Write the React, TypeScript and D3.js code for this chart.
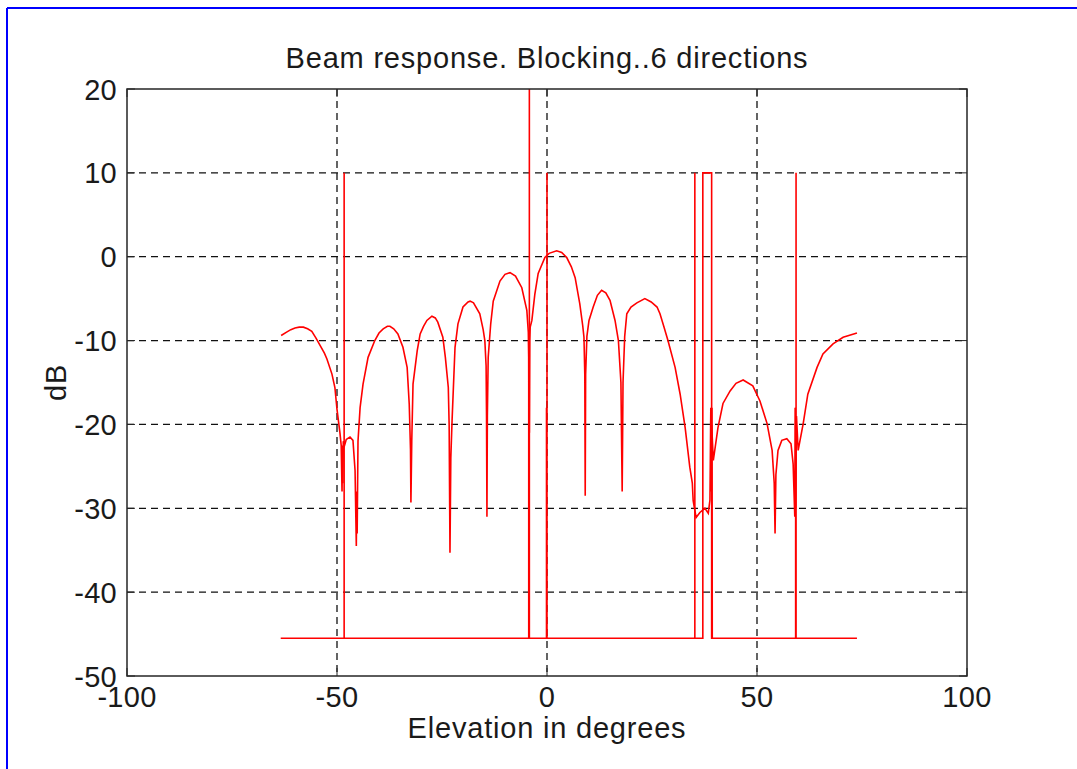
import React from "react";
import * as d3 from "d3";

const xTicks = [-100, -50, 0, 50, 100];
const yTicks = [20, 10, 0, -10, -20, -30, -40, -50];

const beamX = [
  -63.3, -62, -61, -60, -59, -58, -57, -56, -55, -54, -53, -52.4, -51.2, -50.5, -50, -49.3, -49.0,
  -48.8, -48.7, -48.6, -48.5, -48.2, -47.8, -47.5, -46.9, -46.2, -45.7, -45.4, -45.3, -45.2, -45.0,
  -44.5, -43.8, -42.6, -41, -40, -39, -38, -37.4, -36.5, -35.5, -34.3, -33.3, -32.8, -32.5, -32.4,
  -32.2, -31.9, -30.9, -30.2, -29.4, -28.6, -27.4, -26.6, -26, -24.8, -24.2, -23.5, -23.3, -23.1,
  -22.9, -22.6, -21.9, -21.2, -20, -18.8, -18.3, -17.5, -16, -15.2, -14.8, -14.5, -14.4, -14.3,
  -14.2, -14.0, -13.4, -12.8, -11.2, -10, -8.8, -7.5, -6, -4.8, -4.45, -4.35, -4.3, -4.25, -4.2,
  -4.1, -4.0, -3.6, -2.9, -2.1, -0.5, 0.5, 2.3, 3.5, 4.7, 5.8, 6.7, 7.8, 8.5, 8.8, 9.0, 9.1, 9.2,
  9.5, 10, 11, 12, 13, 14, 15, 16.2, 17, 17.6, 17.9, 18.1, 18.5, 19, 20, 21.4, 23.3, 24.8, 26.2,
  26.9, 27.8, 28.8, 30.5, 31.7, 32.9, 34.0, 34.6, 34.8, 35.5, 36.4, 37.6, 38.4, 38.8, 39.0, 39.1,
  39.2, 39.6, 40.7, 41.9, 43.6, 45, 46.7, 49, 50.7, 52.4, 53.6, 54.1, 54.3, 54.5, 55, 55.9, 57.1,
  58.1, 58.6, 59.0, 59.1, 59.2, 59.4, 59.8, 61, 62.1, 64.3, 65.7, 68.1, 70.5, 73.8,
];
const beamDb = [
  -9.4, -9.0, -8.7, -8.5, -8.4, -8.4, -8.6, -8.9, -9.7, -10.6, -11.5, -12.2, -14, -15.6, -18.2, -21, -22.5,
  -28, -22.5, -27, -22, -22.5, -21.8, -21.7, -21.5, -21.9, -25.5, -34.5, -28, -33, -22,
  -18, -15.2, -12, -10, -9.1, -8.6, -8.3, -8.3, -8.6, -9.2, -10.8, -13.2, -17.6, -23, -29.3,
  -22, -15.2, -11.2, -9.2, -8.3, -7.6, -7.1, -7.3, -7.8, -9.6, -12, -15.6, -20, -35.3,
  -24, -19.5, -10.8, -8, -6, -5.4, -5.3, -5.5, -6.8, -8.7, -10, -13, -19, -31,
  -19, -12, -8.0, -5.3, -2.9, -2.1, -1.9, -2.3, -3.7, -6.4, -9, -12, -23, -11, -21,
  -10, -8.4, -7.6, -4.5, -2.0, -0.1, 0.4, 0.7, 0.5, -0.1, -1.2, -2.5, -5.6, -8.2, -9.6, -14, -28.5, -14,
  -9.5, -7.6, -6, -4.6, -4.0, -4.3, -5.2, -7.6, -10, -15, -28, -15, -9.5, -6.8, -6.0, -5.5, -5.0, -5.4, -6,
  -6.8, -8.3, -10, -13.2, -16.4, -20.4, -25.1, -27, -29.1, -31.1, -30.5, -30, -30.6, -29, -18, -28,
  -20, -24.3, -20.4, -17.5, -16, -15.1, -14.7, -15.4, -17.2, -19.9, -23.1, -27, -33, -26, -23.1, -21.9, -21.7,
  -22.3, -24.7, -31, -18, -30, -19, -23.1, -19.9, -16.4, -13.2, -11.6, -10.4, -9.6, -9.1,
];

const blockX = [
  -63.4, -48.3, -48.3, -48.3, -4.2, -4.2, -4.2, -4.35, -4.35, -4.25, -0.12, -0.12, 0, 0, 0,
  35.2, 35.2, 35.2, 37.1, 37.1, 39.2, 39.2, 39.3, 39.3, 39.35, 59.2, 59.2, 59.3, 59.3, 59.3, 73.8,
];
const blockDb = [
  -45.5, -45.5, 10, -45.5, -45.5, 30, -45.5, -45.5, -10, -45.5, -45.5, -18, -45.5, 10, -45.5,
  -45.5, 10, -45.5, -45.5, 10, 10, -45.5, -45.5, -18, -45.5, -45.5, -18, -45.5, 10, -45.5, -45.5,
];

const W = 1077;
const H = 769;
const L = 127, R = 967, T = 89, B = 676;
const FONT = "'Liberation Sans', Arial, Helvetica, sans-serif";

export default function App() {
  const x = d3.scaleLinear().domain([-100, 100]).range([L, R]);
  const y = d3.scaleLinear().domain([-50, 20]).range([B, T]);
  const line = d3
    .line<[number, number]>()
    .x((d) => x(d[0]))
    .y((d) => y(d[1]));
  const beam: [number, number][] = beamX.map((v, i) => [v, beamDb[i]]);
  const block: [number, number][] = blockX.map((v, i) => [v, blockDb[i]]);
  const tickLen = 8;
  const axisColor = "#262626";

  return (
    <svg
      width={W}
      height={H}
      style={{ position: "absolute", left: 0, top: 0, background: "#fff" }}
      fontFamily={FONT}
    >
      <rect x={0} y={0} width={W} height={H} fill="#fff" />
      <line x1={7} y1={8} x2={W} y2={8} stroke="#0000ff" strokeWidth={2} />
      <line x1={7} y1={8} x2={7} y2={H} stroke="#0000ff" strokeWidth={2} />
      <defs>
        <clipPath id="plotclip">
          <rect x={L} y={T} width={R - L} height={B - T} />
        </clipPath>
      </defs>
      {/* grid */}
      <g stroke="#111" strokeWidth={1.3} strokeDasharray="7,5" fill="none">
        {xTicks
          .filter((t) => t > -100 && t < 100)
          .map((t) => (
            <line key={"gx" + t} x1={x(t)} x2={x(t)} y1={T} y2={B} />
          ))}
        {yTicks
          .filter((t) => t > -50 && t < 20)
          .map((t) => (
            <line key={"gy" + t} x1={L} x2={R} y1={y(t)} y2={y(t)} />
          ))}
      </g>
      {/* data */}
      <g clipPath="url(#plotclip)" fill="none" stroke="#ff0000" strokeWidth={1.6}>
        <path d={line(block) || ""} />
        <path d={line(beam) || ""} />
      </g>
      {/* ticks */}
      <g stroke={axisColor} strokeWidth={1}>
        {xTicks.map((t) => (
          <g key={"tx" + t}>
            <line x1={x(t)} x2={x(t)} y1={B} y2={B - tickLen} />
            <line x1={x(t)} x2={x(t)} y1={T} y2={T + tickLen} />
          </g>
        ))}
        {yTicks.map((t) => (
          <g key={"ty" + t}>
            <line x1={L} x2={L + tickLen} y1={y(t)} y2={y(t)} />
            <line x1={R} x2={R - tickLen} y1={y(t)} y2={y(t)} />
          </g>
        ))}
      </g>
      <rect x={L} y={T} width={R - L} height={B - T} fill="none" stroke={axisColor} strokeWidth={1.5} />
      {/* tick labels */}
      <g fill="#1a1a1a" fontSize={29} letterSpacing={0.3}>
        {xTicks.map((t) => (
          <text key={"lx" + t} x={x(t)} y={707} textAnchor="middle">
            {String(t)}
          </text>
        ))}
        {yTicks.map((t) => (
          <text key={"ly" + t} x={117} y={y(t) + 10.5} textAnchor="end">
            {String(t)}
          </text>
        ))}
      </g>
      <text x={(L + R) / 2} y={68} textAnchor="middle" fontSize={29} letterSpacing={0.8} fill="#1a1a1a">
        Beam response. Blocking..6 directions
      </text>
      <text x={(L + R) / 2} y={738} textAnchor="middle" fontSize={29} letterSpacing={0.8} fill="#1a1a1a">
        Elevation in degrees
      </text>
      <text
        transform={`translate(66, ${(T + B) / 2}) rotate(-90)`}
        textAnchor="middle"
        fontSize={29}
        letterSpacing={0.8}
        fill="#1a1a1a"
      >
        dB
      </text>
    </svg>
  );
}
